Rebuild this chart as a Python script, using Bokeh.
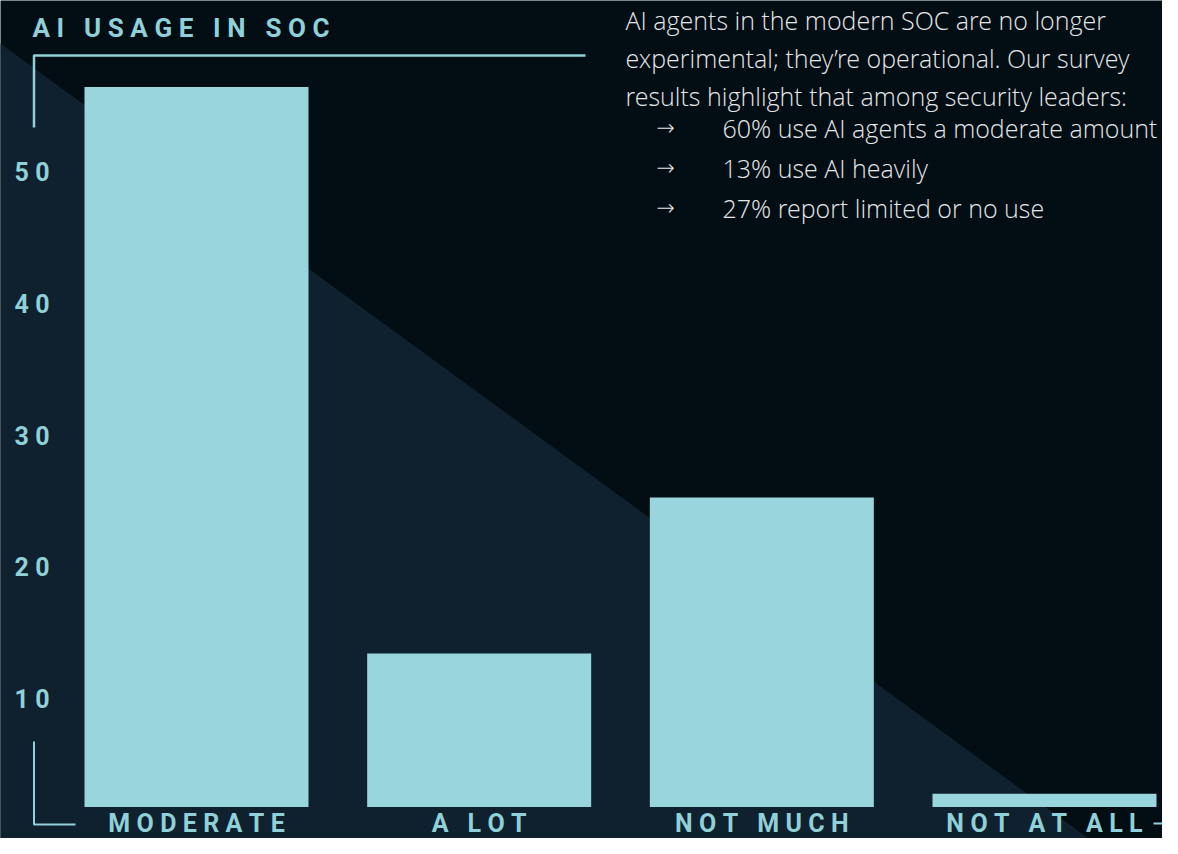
from bokeh.plotting import figure
from bokeh.models import ColumnDataSource, Range1d
from bokeh.core.properties import value
from bokeh.embed import file_html
from bokeh.resources import INLINE

# ---------------- data ----------------
categories = ["MODERATE", "A LOT", "NOT MUCH", "NOT AT ALL"]
usage = [60, 12.8, 25.8, 1.1]
y_ticks = [10, 20, 30, 40, 50]
title = "AI USAGE IN SOC"
intro_lines = [
    "AI agents in the modern SOC are no longer",
    "experimental; they\u2019re operational. Our survey",
    "results highlight that among security leaders:",
]
bullets = [
    "60% use AI agents a moderate amount",
    "13% use AI heavily",
    "27% report limited or no use",
]

# ---------------- style ----------------
BG = "#020d14"
TRI = "#0f202e"
CYAN = "#99d5dd"
LABEL = "#8fd0d9"
BODY = "#e4e6e8"
W, H = 1162, 838
SP = "\u2005"  # four-per-em space used as letter spacing
BODY_FONT = value("Open Sans Light, Open Sans")


def spaced(s):
    return SP.join(s)


# layout helpers: reference pixel -> data coordinates
X0, DX = 196.0, 282.67
Y0, DY = 806.5, 12.0


def dx(px):
    return (px - X0) / DX


def dy(py):
    return (Y0 - py) / DY


def tv(py):
    return 10 + (699.0 - py) / 13.175


p = figure(width=W, height=H, output_backend="svg", toolbar_location=None,
           x_axis_location=None, y_axis_location=None,
           x_range=Range1d(dx(0), dx(W)), y_range=Range1d(dy(H), dy(0)),
           min_border=0, background_fill_color=BG, border_fill_color=BG,
           outline_line_color=None)
p.extra_y_ranges = {"ticks": Range1d(tv(H), tv(0))}
p.xgrid.visible = False
p.ygrid.visible = False

# background triangle
p.patch([dx(-5), dx(-5), dx(1173)], [dy(39.4), dy(900), dy(900)],
        fill_color=TRI, line_color=None)

# bars
xs = list(range(len(categories)))
src = ColumnDataSource(dict(x=xs, top=usage, cat=[spaced(c) for c in categories]))
p.vbar(x="x", top="top", bottom=0, width=224 / DX, source=src,
       fill_color=CYAN, line_color=None)

# category labels
p.text(x="x", y=dy(823), text="cat", source=src, text_font=value("Roboto"),
       text_font_style="bold", text_font_size="25px", text_color=LABEL,
       text_align="center", text_baseline="middle")

# y tick labels (own scale)
tsrc = ColumnDataSource(dict(y=y_ticks, t=[spaced(str(v)) for v in y_ticks]))
p.text(x=dx(14), y="y", text="t", source=tsrc, y_range_name="ticks",
       text_font=value("Roboto"), text_font_style="bold", text_font_size="25px",
       text_color=LABEL, text_align="left", text_baseline="middle")

# title
p.text(x=[dx(32)], y=[dy(27)], text=[spaced(title)], text_font=value("Roboto"),
       text_font_style="bold", text_font_size="26px", text_color=LABEL,
       text_align="left", text_baseline="middle")

# bracket lines
p.line([dx(33.5), dx(33.5), dx(585)], [dy(127), dy(55), dy(55)],
       line_color=LABEL, line_width=2.5)
p.line([dx(33.5), dx(33.5), dx(75)], [dy(741), dy(824), dy(824)],
       line_color=LABEL, line_width=2)
p.line([dx(1153), dx(1200)], [dy(823), dy(823)], line_color=LABEL, line_width=2)

# intro paragraph
p.text(x=[dx(625)] * 3, y=[dy(19), dy(57), dy(95)], text=intro_lines,
       text_font=BODY_FONT, text_font_size="25px", text_color=BODY,
       text_align="left", text_baseline="middle")
p.text(x=[dx(656)] * 3, y=[dy(127), dy(167), dy(207)], text=["\u2192"] * 3,
       text_font=value("DejaVu Sans Light, DejaVu Sans"), text_font_size="22px",
       text_color=BODY, text_align="left", text_baseline="middle")
p.text(x=[dx(722)] * 3, y=[dy(127), dy(167), dy(207)], text=bullets,
       text_font=BODY_FONT, text_font_size="25px", text_color=BODY,
       text_align="left", text_baseline="middle")

open("out.html", "w").write(file_html(p, INLINE))
